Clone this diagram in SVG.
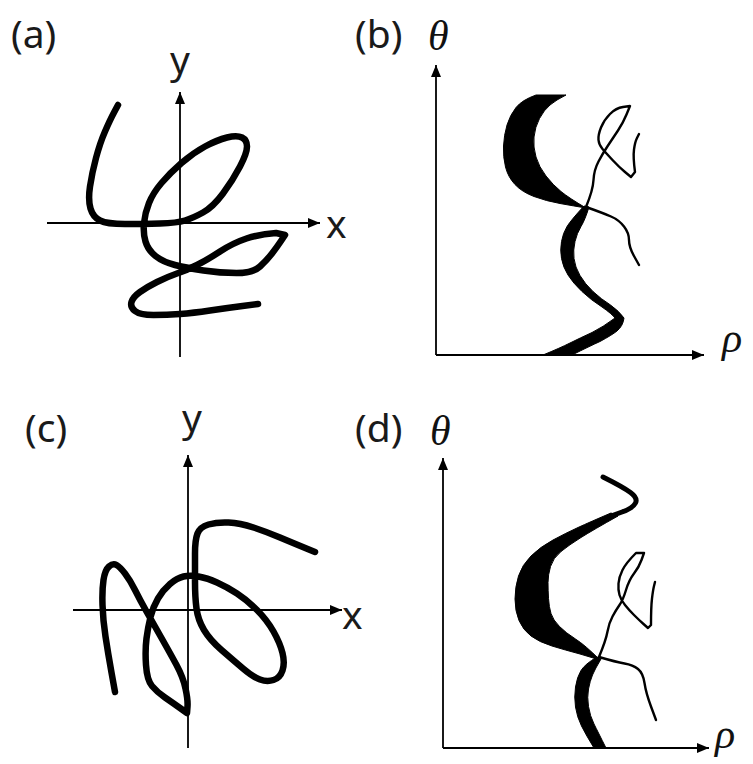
<svg xmlns="http://www.w3.org/2000/svg" width="753" height="764" viewBox="0 0 753 764">
<defs>
<marker id="ah" viewBox="0 0 12 10" refX="12" refY="5" markerWidth="12" markerHeight="10" orient="auto" markerUnits="userSpaceOnUse"><path d="M0,0 L12,5 L0,10 Z" fill="#000"/></marker>
</defs>
<style>
.ax{stroke:#000;stroke-width:1.8;fill:none;marker-end:url(#ah)}
.cur{stroke:#000;stroke-width:6.5;fill:none;stroke-linecap:round;stroke-linejoin:round}
.thin{stroke:#000;stroke-width:2.4;fill:none;stroke-linecap:round;stroke-linejoin:round}
.fillk{fill:#000;stroke:#000;stroke-width:1;stroke-linejoin:round}
.lbl{font-family:"Noto Sans","DejaVu Sans",sans-serif;font-size:39px;fill:#1a1a1a}
.gk{font-family:"Liberation Serif","DejaVu Serif",serif;font-style:italic;font-size:42px;fill:#111}
</style>
<rect width="753" height="764" fill="#fff"/>

<g id="panel-a">
<text class="lbl" x="11" y="48">(a)</text>
<text class="lbl" x="180" y="74" text-anchor="middle">y</text>
<text class="lbl" x="326" y="238">x</text>
<path class="ax" d="M180,357 L180,92"/>
<path class="ax" d="M47,223 L320,223"/>
<path class="cur" d="M118,105 L114,112.5 Q110,120 105,131.5 Q100,143 96,158 Q92,173 90,186.5 Q88,200 90.5,208.5 Q93,217 100,220.5 Q107,224 125,224 Q143,224 160,223.5 Q177,223 185,220.5 Q193,218 203,212.5 Q213,207 223,193.5 Q233,180 240,166.5 Q247,153 247,146.5 Q247,140 242,137.5 Q237,135 227,137.5 Q217,140 205,146.5 Q193,153 181.5,163 Q170,173 161.5,183 Q153,193 149,203 Q145,213 144,223 Q143,233 145.5,241.5 Q148,250 155.5,256 Q163,262 175,265 Q187,268 203.5,270.5 Q220,273 236.5,273 Q253,273 260,266.5 Q267,260 272,253.5 Q277,247 281,241 L285,235 L276,233 Q260,234 246.5,238.5 Q233,243 220,251.5 Q207,260 197,265 Q187,270 177,273.5 Q167,277 157,282 Q147,287 140,292 Q133,297 131.5,302 Q130,307 135,311 Q140,315 153.5,315 Q167,315 180,314 Q193,313 210,310.5 Q227,308 242.5,306 L258,304"/>
</g>

<g id="panel-b">
<text class="lbl" x="355" y="48">(b)</text>
<text class="gk" x="428" y="50">θ</text>
<text class="gk" x="722" y="352">ρ</text>
<path class="ax" d="M436,355 L436,65"/>
<path class="ax" d="M436,355 L704,355"/>
<path class="fillk" d="M536,95 Q522,100 516,107.5 Q510,115 507,125 Q504,135 503.5,146 Q503,157 505.5,167 Q508,177 515,184.5 Q522,192 534,196.5 Q546,201 560,203.5 Q574,206 586,208 Q569,198 561,191.5 Q553,185 546,176 Q539,167 536,157 Q533,147 534,137 Q535,127 539.5,118.5 Q544,110 550,105 Q556,100 566,95 Z"/>
<path class="fillk" d="M584,206 Q571,220 567,226.5 Q563,233 561.5,241.5 Q560,250 561.5,258.5 Q563,267 568,275 Q573,283 582,291.5 Q591,300 602,307 Q612,314 615,318 Q603,327 592,332.5 Q580,338 570,343 Q560,348 543,355 L572,355 Q590,346 600,341.5 Q612,335 617,331 Q623,326 624,318 Q619,311 610.5,305 Q601,299 593,291.5 Q585,284 580,275.5 Q575,267 574,258.5 Q573,250 575,241.5 Q577,233 581,226.5 Q585,220 589,207 Z"/>
<path class="thin" d="M586,207 Q603,213 611,216.5 Q619,220 624,226.5 Q629,233 629,240 Q629,247 634,256 L639,265"/>
<path class="thin" d="M586,207 Q593,190 593.5,180 Q594,170 598.5,161.5 Q603,153 608,145.5 Q613,138 618,130.5 Q623,123 626.5,114.5 L630,106 L623,107 Q616,108 610,114 Q604,120 601,127.5 Q598,135 598.5,140 Q599,145 602.5,149 Q606,153 612.5,160 Q619,167 625,172 L631,177 L635,172 Q633,157 634,149.5 Q635,142 637,138 L639,134"/>
</g>

<g id="panel-c">
<text class="lbl" x="25" y="442">(c)</text>
<text class="lbl" x="192" y="432" text-anchor="middle">y</text>
<text class="lbl" x="342" y="629">x</text>
<path class="ax" d="M188,748 L188,455"/>
<path class="ax" d="M73,610 L342,610"/>
<path class="cur" d="M315,552 Q293,543 280,537.5 Q267,532 253.5,527.5 Q240,523 228.5,522.5 Q217,522 208.5,524.5 Q200,527 197.5,533.5 Q195,540 195,553.5 Q195,567 195,582 Q195,597 196.5,608.5 Q198,620 204,630 Q210,640 221.5,650 Q233,660 243,668.5 Q253,677 260,679.5 Q267,682 273.5,680 Q280,678 282.5,670.5 Q285,663 282.5,653 Q280,643 273.5,631.5 Q267,620 257,610 Q247,600 237,593.5 Q227,587 217,582.5 Q207,578 198.5,576.5 Q190,575 183.5,576.5 Q177,578 170,584 Q163,590 158,598.5 Q153,607 150.5,617 Q148,627 146.5,638.5 Q145,650 146,665 Q147,680 152,686 Q157,692 165,697.5 Q173,703 180,708 L187,713 L187.5,706.5 Q188,700 185.5,688.5 Q183,677 176.5,665 Q170,653 161.5,638 Q153,623 146.5,611.5 Q140,600 135,590 Q130,580 125,573.5 Q120,567 116.5,565 Q113,563 109,566.5 Q105,570 103.5,580 Q102,590 102.5,605 Q103,620 105.5,636.5 Q108,653 111.5,672.5 L115,692"/>
</g>

<g id="panel-d">
<text class="lbl" x="355" y="442">(d)</text>
<text class="gk" x="430" y="445">θ</text>
<text class="gk" x="715" y="748">ρ</text>
<path class="ax" d="M443,748 L443,458"/>
<path class="ax" d="M443,748 L709,748"/>
<path class="cur" style="stroke-width:5" d="M603,477 Q623,487 630.5,492.5 Q638,498 635.5,503 Q633,508 622,512 L611,516"/>
<path class="fillk" d="M611,513 Q590,522 578,527.5 Q566,533 553,540 Q540,547 531,556 Q522,565 518.5,576 Q515,587 515,599 Q515,611 519,620.5 Q523,630 531,636 Q539,642 552,646 Q565,650 580,654 Q590,657 600,660 Q585,645 575.5,639 Q566,633 559.5,626.5 Q553,620 551,613.5 Q549,607 548.5,598.5 Q548,590 548,582.5 Q548,575 550.5,566.5 Q553,558 561,551.5 Q569,545 581,537.5 Q593,530 618,516 Z"/>
<path class="fillk" d="M597,657 Q585,664 581,670.5 Q577,677 575.5,687 Q574,697 575.5,707 Q577,717 581.5,726 Q586,735 594,748 L606,748 Q598,732 594,724 Q590,716 588.5,706.5 Q587,697 588.5,689 Q590,681 592.5,675 Q595,669 601,659 Z"/>
<path class="thin" d="M599,657 Q616,662 624.5,663.5 Q633,665 638,669 Q643,673 644.5,683 Q646,693 651,706.5 L656,720"/>
<path class="thin" d="M599,657 Q606,640 607.5,631.5 Q609,623 612.5,616.5 Q616,610 619.5,605 Q623,600 626,590 Q629,580 634,573.5 Q639,567 641.5,560 L644,553 L636,553 Q626,563 622.5,570 Q619,577 618.5,583.5 Q618,590 619.5,595 Q621,600 625,605 Q629,610 634,615 Q639,620 643.5,624 L648,628 L651,625 Q651,607 652,598.5 Q653,590 654,586 L655,582"/>
</g>
</svg>
